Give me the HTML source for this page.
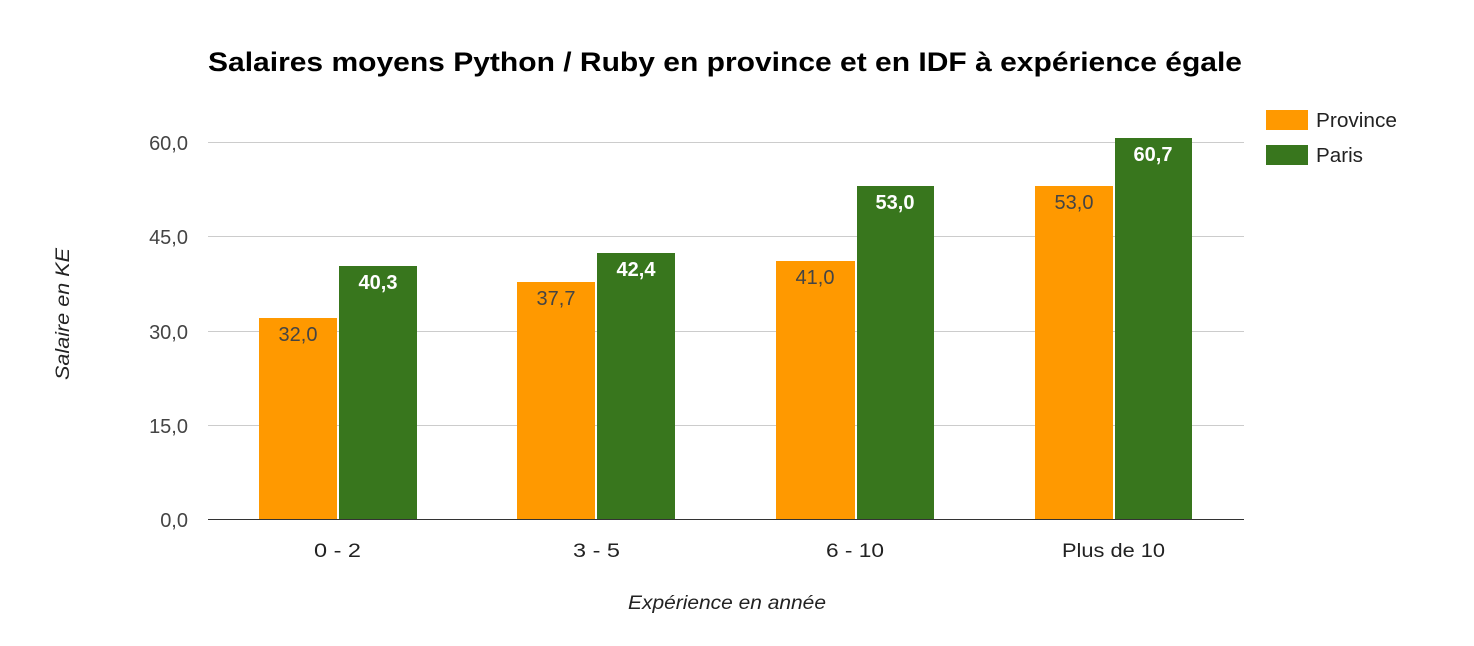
<!DOCTYPE html>
<html><head><meta charset="utf-8"><style>
body{margin:0;background:#fff;}
svg{display:block;font-family:"Liberation Sans",Arial,sans-serif;}
</style></head><body>
<svg width="1474" height="646" viewBox="0 0 1474 646" xmlns="http://www.w3.org/2000/svg">
<rect width="1474" height="646" fill="#fff"/>
<text x="208" y="71" font-size="27" font-weight="bold" fill="#000" textLength="1034" lengthAdjust="spacingAndGlyphs">Salaires moyens Python / Ruby en province et en IDF à expérience égale</text>
<g stroke="#ccc" stroke-width="1">
<line x1="208" x2="1244" y1="142.5" y2="142.5"/>
<line x1="208" x2="1244" y1="236.5" y2="236.5"/>
<line x1="208" x2="1244" y1="331.5" y2="331.5"/>
<line x1="208" x2="1244" y1="425.5" y2="425.5"/>
</g>
<g font-size="20" fill="#444" text-anchor="end">
<text x="188" y="150">60,0</text>
<text x="188" y="244">45,0</text>
<text x="188" y="339">30,0</text>
<text x="188" y="433">15,0</text>
<text x="188" y="527">0,0</text>
</g>
<g fill="#ff9900">
<rect x="259" y="318" width="78" height="201"/>
<rect x="517" y="282" width="78" height="237"/>
<rect x="776" y="261" width="79" height="258"/>
<rect x="1035" y="186" width="78" height="333"/>
</g>
<g fill="#38761d">
<rect x="339" y="266" width="78" height="253"/>
<rect x="597" y="253" width="78" height="266"/>
<rect x="857" y="186" width="77" height="333"/>
<rect x="1115" y="138" width="77" height="381"/>
</g>
<line x1="208" x2="1244" y1="519.5" y2="519.5" stroke="#333" stroke-width="1"/>
<g font-size="20" fill="#444" text-anchor="middle">
<text x="298" y="341">32,0</text>
<text x="556" y="305">37,7</text>
<text x="815" y="284">41,0</text>
<text x="1074" y="209">53,0</text>
</g>
<g font-size="20" fill="#fff" font-weight="bold" text-anchor="middle">
<text x="378" y="289">40,3</text>
<text x="636" y="276">42,4</text>
<text x="895" y="209">53,0</text>
<text x="1153" y="161">60,7</text>
</g>
<g font-size="19" fill="#222">
<text x="314" y="557" textLength="47" lengthAdjust="spacingAndGlyphs">0 - 2</text>
<text x="573" y="557" textLength="47" lengthAdjust="spacingAndGlyphs">3 - 5</text>
<text x="826" y="557" textLength="58" lengthAdjust="spacingAndGlyphs">6 - 10</text>
<text x="1062" y="557" textLength="103" lengthAdjust="spacingAndGlyphs">Plus de 10</text>
</g>
<text x="628" y="609" font-size="19" font-style="italic" fill="#222" textLength="198" lengthAdjust="spacingAndGlyphs">Expérience en année</text>
<text transform="translate(69,380) rotate(-90)" font-size="19" font-style="italic" fill="#222" textLength="132" lengthAdjust="spacingAndGlyphs">Salaire en KE</text>
<rect x="1266" y="110" width="42" height="20" fill="#ff9900"/>
<text x="1316" y="127" font-size="20" fill="#222" textLength="81" lengthAdjust="spacingAndGlyphs">Province</text>
<rect x="1266" y="145" width="42" height="20" fill="#38761d"/>
<text x="1316" y="162" font-size="20" fill="#222" textLength="47" lengthAdjust="spacingAndGlyphs">Paris</text>
</svg>
</body></html>
